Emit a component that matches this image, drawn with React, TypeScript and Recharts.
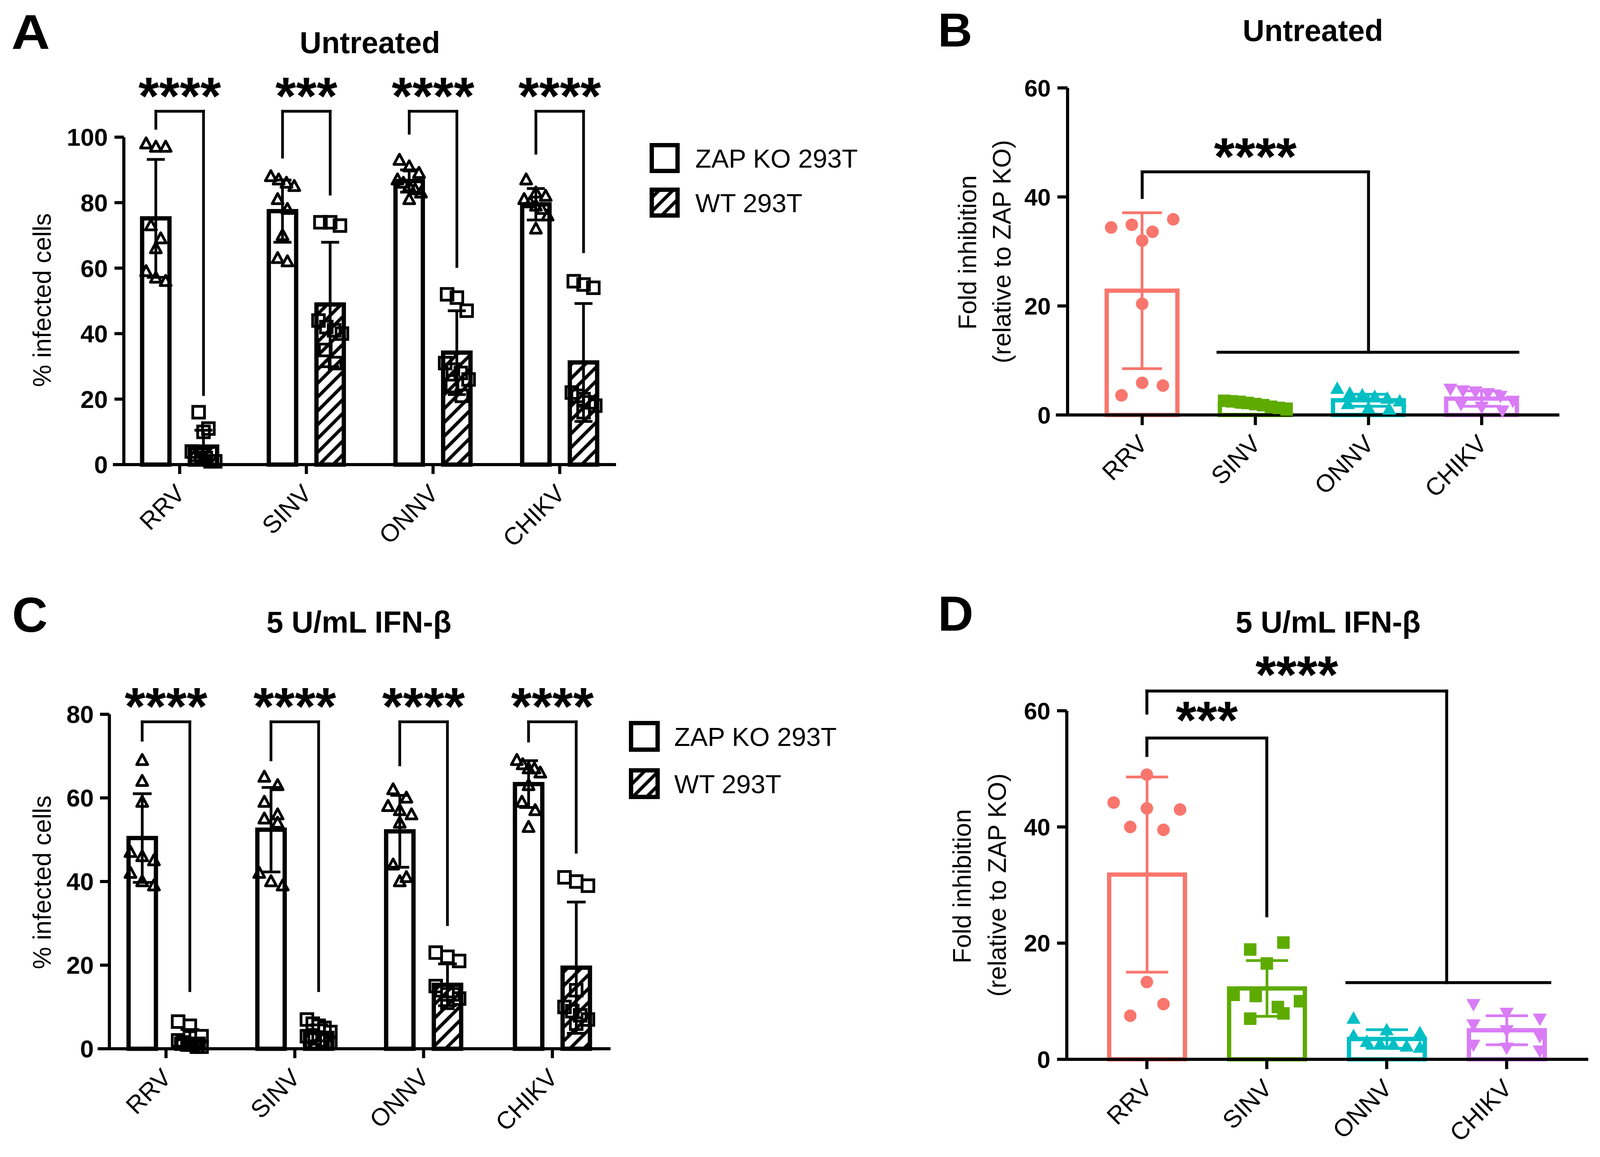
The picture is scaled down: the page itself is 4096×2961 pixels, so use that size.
import React from "react";
import {
  ComposedChart,
  Bar,
  Scatter,
  XAxis,
  YAxis,
  ErrorBar,
  ReferenceLine,
  ReferenceDot,
} from "recharts";

const FONT = '"Liberation Sans", Arial, Helvetica, sans-serif';

// ---------- data ----------
const viruses = ["RRV", "SINV", "ONNV", "CHIKV"];
const virusColors = ["#F8766D", "#5EAB00", "#00BFC4", "#D97CF6"];

// A: untreated, % infected cells
const untreatedKoMean = [75.2, 77.4, 86.6, 79.5];
const untreatedKoSd = [18.0, 9.5, 3.4, 4.8];
const untreatedWtMean = [5.5, 48.9, 34.2, 31.2];
const untreatedWtSd = [5.0, 19.0, 12.8, 18.0];
const untreatedKoPoints = [
  [98, 97, 97, 73, 69, 66, 59, 57, 56],
  [88, 87, 86, 85, 81, 78, 70, 63, 62],
  [93, 91, 89, 87, 86, 85, 84, 83, 81],
  [87, 83, 82, 81, 80, 79, 78, 76, 72],
];
const untreatedWtPoints = [
  [16, 11, 10, 4, 3, 3, 2, 1, 1],
  [74, 74, 73, 44, 42, 41, 40, 35, 31],
  [52, 51, 47, 31, 29, 28, 26, 24, 21],
  [56, 55, 54, 22, 21, 20, 19, 18, 16],
];
const untreatedStars = ["****", "***", "****", "****"];
const untreatedBracketTop = 107.9;
const untreatedBracketLeft = [102.7, 93.9, 101.2, 95.1];
const untreatedBracketRight = [21.4, 82.6, 60.5, 65.0];
const untreatedStarY = 114.7;

// C: 5 U/mL IFN-b, % infected cells
const ifnKoMean = [50.4, 52.4, 52.0, 63.3];
const ifnKoSd = [10.6, 10.1, 8.6, 5.6];
const ifnWtMean = [2.4, 3.8, 15.3, 19.4];
const ifnWtSd = [2.2, 1.9, 5.0, 15.7];
const ifnKoPoints = [
  [69, 64, 59, 47, 46, 45, 42, 40, 39],
  [65, 63, 59, 56, 55, 54, 42, 40, 39],
  [62, 60, 58, 57, 56, 54, 44, 41, 40],
  [69, 68, 67, 67, 66, 63, 59, 57, 53],
];
const ifnWtPoints = [
  [6.5, 5.5, 3, 2, 1.5, 1, 1, 0.5, 0.5],
  [7, 6, 5.5, 5, 4, 3, 2.5, 2, 1.5],
  [23, 22, 21, 15, 14, 13, 13, 12, 11],
  [41, 40, 39, 14, 10, 9, 8, 7, 6],
];
const ifnStars = ["****", "****", "****", "****"];
const ifnBracketTop = 78.2;
const ifnBracketLeft = [73.8, 69.1, 67.9, 73.6];
const ifnBracketRight = [13.9, 13.9, 29.7, 47.0];
const ifnStarY = 83.5;

// B: untreated, fold inhibition
const untreatedFoldMean = [22.8, 1.9, 2.7, 3.0];
const untreatedFoldSd = [14.3, 0.5, 1.1, 1.4];
const untreatedFoldPoints = [
  [34.4, 34.9, 33.6, 35.9, 32.0, 20.4, 3.6, 5.9, 5.4],
  [2.6, 2.5, 2.4, 2.2, 2.0, 1.8, 1.5, 1.3, 1.0],
  [4.8, 3.9, 3.6, 3.3, 3.0, 2.5, 2.0, 1.2, 1.0],
  [4.8, 4.5, 4.3, 4.0, 3.5, 2.6, 2.0, 1.5, 0.8],
];
const untreatedFoldBrackets = [
  { path: [[0, 39.9], [0, 44.6], [2, 44.6], [2, 11.5]], stars: "****", at: [1, 48.7] },
];
const untreatedFoldLines = [[[0.67, 11.5], [3.32, 11.5]]];

// D: 5 U/mL IFN-b, fold inhibition
const ifnFoldMean = [31.8, 12.2, 3.5, 5.0];
const ifnFoldSd = [16.8, 4.8, 1.6, 2.5];
const ifnFoldPoints = [
  [49, 44.2, 43.2, 43.0, 40.0, 39.5, 13.3, 7.5, 9.5],
  [18.9, 20.1, 16.5, 11.1, 10.9, 9.0, 10.0, 7.0, 7.9],
  [7.0, 5.0, 4.5, 4.0, 3.0, 2.6, 2.5, 2.2, 2.0],
  [9.5, 8.0, 7.0, 6.0, 5.0, 4.0, 2.5, 2.0, 1.5],
];
const ifnFoldBrackets = [
  { path: [[0, 59.6], [0, 63.4], [2.5, 63.4], [2.5, 13.2]], stars: "****", at: [1.25, 67.4] },
  { path: [[0, 52.3], [0, 55.3], [1, 55.3], [1, 24.7]], stars: "***", at: [0.5, 59.6] },
];
const ifnFoldLines = [[[1.668, 13.2], [3.36, 13.2]]];

// ---------- layout ----------
type Layout = {
  left: number; top: number; width: number; height: number;
  plotLeft: number; plotTop: number; plotRight: number; plotBottom: number;
  c0: number; step: number; axisStart: number;
  yMax: number; yTicks: number[];
  tickFont: number; tickLen: number; tickGap: number;
};

const layoutA: Layout = { left: 0, top: 150, width: 1660, height: 1300, plotLeft: 317, plotTop: 351, plotRight: 1573, plotBottom: 1189, c0: 460, step: 324.3, axisStart: 293, yMax: 100, yTicks: [0, 20, 40, 60, 80, 100], tickFont: 63, tickLen: 24, tickGap: 17 };
const layoutB: Layout = { left: 2400, top: 150, width: 1696, height: 1150, plotLeft: 2733, plotTop: 225, plotRight: 3988, plotBottom: 1062, c0: 2924, step: 289.7, axisStart: 2707, yMax: 60, yTicks: [0, 20, 40, 60], tickFont: 61, tickLen: 26, tickGap: 17 };
const layoutC: Layout = { left: 0, top: 1650, width: 1620, height: 1300, plotLeft: 280, plotTop: 1828, plotRight: 1559, plotBottom: 2684, c0: 425, step: 329.7, axisStart: 254, yMax: 80, yTicks: [0, 20, 40, 60, 80], tickFont: 63, tickLen: 24, tickGap: 16 };
const layoutD: Layout = { left: 2400, top: 1650, width: 1696, height: 1300, plotLeft: 2731, plotTop: 1819, plotRight: 4062, plotBottom: 2711, c0: 2936, step: 307, axisStart: 2716, yMax: 60, yTicks: [0, 20, 40, 60], tickFont: 61, tickLen: 25, tickGap: 17 };

const Y_AXIS_W = 200;
const X_AXIS_H = 200;
const GROUP_BAR = 70;
const GROUP_GAP = 52;

function frame(l: Layout) {
  return {
    margin: {
      left: l.plotLeft - l.left - Y_AXIS_W,
      top: l.plotTop - l.top,
      right: l.left + l.width - l.plotRight,
      bottom: l.top + l.height - l.plotBottom - X_AXIS_H,
    },
    numDomain: [(l.plotLeft - l.c0) / l.step, (l.plotRight - l.c0) / l.step],
    catPadding: {
      left: l.c0 - l.step / 2 - l.plotLeft,
      right: l.plotRight - (l.c0 + 3.5 * l.step),
    },
    axisFrom: (l.axisStart - l.c0) / l.step,
    pxPerUnit: (l.plotBottom - l.plotTop) / l.yMax,
  };
}

// rows of near-equal values are spread sideways, like a column scatter
function swarm(values: number[], rowGap: number) {
  const order = values.map((_, i) => i).sort((a, b) => values[b] - values[a]);
  const placed = values.map(() => ({ k: 0, n: 1 }));
  let row: number[] = [];
  let head = 0;
  const flush = () => {
    row.sort((a, b) => a - b);
    row.forEach((idx, k) => (placed[idx] = { k: k - (row.length - 1) / 2, n: row.length }));
    row = [];
  };
  for (const i of order) {
    if (row.length && head - values[i] > rowGap) flush();
    if (!row.length) head = values[i];
    row.push(i);
  }
  flush();
  return placed;
}

function pointCloud(groups: number[][], first: number, shift: number, l: Layout, marker: number, spacing: number, maxSpan: number) {
  const rowGap = (1.2 * marker) / frame(l).pxPerUnit;
  return groups.flatMap((vals, g) => {
    const placed = swarm(vals, rowGap);
    return vals.map((v, j) => {
      const { k, n } = placed[j];
      const gap = n > 1 ? Math.min(spacing, maxSpan / (n - 1)) : 0;
      return { x: first + g + shift + (k * gap) / l.step, y: v };
    });
  });
}

// ---------- marks ----------
const KoBar = (p: any) =>
  p.height > 0 ? <rect x={p.x} y={p.y} width={p.width} height={p.height} fill="#fff" stroke="#000" strokeWidth={11} /> : null;
const WtBar = (p: any) =>
  p.height > 0 ? <rect x={p.x} y={p.y} width={p.width} height={p.height} fill="url(#hatch)" stroke="#000" strokeWidth={11} /> : null;
const foldBar = (color: string) => (p: any) =>
  p.height > 0 ? <rect x={p.x} y={p.y} width={p.width} height={p.height} fill="none" stroke={color} strokeWidth={11} /> : null;

const OpenTriangle = (p: any) => (
  <path d={`M${p.cx},${p.cy - 15}L${p.cx + 14},${p.cy + 11}L${p.cx - 14},${p.cy + 11}Z`} fill="none" stroke="#000" strokeWidth={7} strokeLinejoin="round" />
);
const OpenSquare = (p: any) => (
  <rect x={p.cx - 15} y={p.cy - 15} width={30} height={30} fill="none" stroke="#000" strokeWidth={7} />
);
const foldMarker = (kind: number, color: string) => (p: any) => {
  const { cx, cy } = p;
  if (kind === 0) return <circle cx={cx} cy={cy} r={16} fill={color} />;
  if (kind === 1) return <rect x={cx - 16} y={cy - 16} width={32} height={32} fill={color} />;
  if (kind === 2) return <path d={`M${cx},${cy - 19}L${cx + 18},${cy + 13}L${cx - 18},${cy + 13}Z`} fill={color} />;
  return <path d={`M${cx},${cy + 19}L${cx + 18},${cy - 13}L${cx - 18},${cy - 13}Z`} fill={color} />;
};

const STAR_SIZE = 136;
const starLabel = (text: string) => (props: any) => {
  const vb = props.viewBox || {};
  return (
    <text x={vb.x} y={vb.y + 0.47 * STAR_SIZE} textAnchor="middle" fontFamily={FONT} fontWeight={700} fontSize={STAR_SIZE} fill="#000">
      {text}
    </text>
  );
};

const catTick = (l: Layout) => (p: any) => {
  const ax = p.x + 17;
  const ay = p.y - l.tickLen + 78;
  return (
    <text x={ax} y={ay} transform={`rotate(-45 ${ax} ${ay})`} textAnchor="end" fontFamily={FONT} fontSize={63} fill="#000">
      {p.payload.value}
    </text>
  );
};

function axes(l: Layout, f: ReturnType<typeof frame>) {
  return [
    <XAxis
      key="cat"
      xAxisId="cat"
      dataKey="cat"
      type="category"
      padding={f.catPadding}
      height={X_AXIS_H}
      interval={0}
      tickSize={l.tickLen}
      tickMargin={0}
      axisLine={false}
      tickLine={{ stroke: "#000", strokeWidth: 8 }}
      tick={catTick(l)}
    />,
    <XAxis key="num" xAxisId="num" type="number" dataKey="x" domain={f.numDomain} hide />,
    <YAxis
      key="y"
      type="number"
      domain={[0, l.yMax]}
      ticks={l.yTicks}
      interval={0}
      width={Y_AXIS_W}
      tickSize={l.tickLen}
      tickMargin={l.tickGap}
      axisLine={{ stroke: "#000", strokeWidth: 8 }}
      tickLine={{ stroke: "#000", strokeWidth: 8 }}
      tick={{ fill: "#000", fontSize: l.tickFont, fontWeight: 700, fontFamily: FONT }}
    />,
  ];
}

function segmentLines(paths: number[][][], width: number, prefix: string) {
  return paths.flatMap((p, b) =>
    p.slice(1).map((q, k) => (
      <ReferenceLine
        key={`${prefix}${b}-${k}`}
        xAxisId="num"
        segment={[{ x: p[k][0], y: p[k][1] }, { x: q[0], y: q[1] }]}
        stroke="#000"
        strokeWidth={width}
        strokeLinecap="square"
        ifOverflow="visible"
      />
    ))
  );
}

function GroupedPanel(props: {
  l: Layout; koMean: number[]; koSd: number[]; wtMean: number[]; wtSd: number[];
  koPts: number[][]; wtPts: number[][]; stars: string[];
  top: number; leftLeg: number[]; rightLeg: number[]; starY: number; spacing: number; cap: number;
}) {
  const { l } = props;
  const f = frame(l);
  const rows = viruses.map((cat, i) => ({ cat, ko: props.koMean[i], koSd: props.koSd[i], wt: props.wtMean[i], wtSd: props.wtSd[i] }));
  const shift = (GROUP_BAR + GROUP_GAP) / 2 / l.step;
  const koCloud = pointCloud(props.koPts, 0, -shift, l, 35, props.spacing, 60);
  const wtCloud = pointCloud(props.wtPts, 0, shift, l, 35, props.spacing, 60);
  const brackets = viruses.map((_, i) => [
    [i - shift, props.leftLeg[i]],
    [i - shift, props.top],
    [i + shift, props.top],
    [i + shift, props.rightLeg[i]],
  ]);
  return (
    <div style={{ position: "absolute", left: l.left, top: l.top }}>
      <ComposedChart width={l.width} height={l.height} data={rows} margin={f.margin} barGap={GROUP_GAP}>
        {axes(l, f)}
        <Bar xAxisId="cat" dataKey="ko" barSize={GROUP_BAR} shape={KoBar} isAnimationActive={false}>
          <ErrorBar dataKey="koSd" width={props.cap} strokeWidth={7} stroke="#000" />
        </Bar>
        <Bar xAxisId="cat" dataKey="wt" barSize={GROUP_BAR} shape={WtBar} isAnimationActive={false}>
          <ErrorBar dataKey="wtSd" width={props.cap} strokeWidth={7} stroke="#000" />
        </Bar>
        <Scatter xAxisId="num" data={koCloud} dataKey="y" shape={OpenTriangle} isAnimationActive={false} />
        <Scatter xAxisId="num" data={wtCloud} dataKey="y" shape={OpenSquare} isAnimationActive={false} />
        {segmentLines(brackets, 7, "br")}
        {segmentLines([[[f.axisFrom, 0], [f.numDomain[1], 0]]], 8, "ax")}
        {props.stars.map((s, i) => (
          <ReferenceDot key={`st${i}`} xAxisId="num" x={i} y={props.starY} r={0} fill="none" stroke="none" ifOverflow="visible" label={starLabel(s)} />
        ))}
      </ComposedChart>
    </div>
  );
}

function FoldPanel(props: {
  l: Layout; mean: number[]; sd: number[]; pts: number[][];
  brackets: { path: number[][]; stars: string; at: number[] }[]; lines: number[][][];
  barSize: number; spacing: number; maxSpan: number; cap: number;
}) {
  const { l } = props;
  const f = frame(l);
  const rows = viruses.map((cat, i) => ({ cat, [`v${i}`]: props.mean[i], [`e${i}`]: props.sd[i] }));
  return (
    <div style={{ position: "absolute", left: l.left, top: l.top }}>
      <ComposedChart width={l.width} height={l.height} data={rows} margin={f.margin}>
        {axes(l, f)}
        {viruses.map((v, i) => (
          <Bar key={v} xAxisId="cat" dataKey={`v${i}`} stackId="fold" barSize={props.barSize} fill={virusColors[i]} shape={foldBar(virusColors[i])} isAnimationActive={false}>
            <ErrorBar dataKey={`e${i}`} width={props.cap} strokeWidth={7} stroke={virusColors[i]} />
          </Bar>
        ))}
        {viruses.map((v, i) => (
          <Scatter
            key={`p${v}`}
            xAxisId="num"
            data={pointCloud([props.pts[i]], i, 0, l, 32, props.spacing, props.maxSpan)}
            dataKey="y"
            shape={foldMarker(i, virusColors[i])}
            isAnimationActive={false}
          />
        ))}
        {segmentLines(props.brackets.map((b) => b.path), 7.5, "br")}
        {segmentLines(props.lines, 7.5, "ln")}
        {segmentLines([[[f.axisFrom, 0], [f.numDomain[1], 0]]], 8, "ax")}
        {props.brackets.map((b, i) => (
          <ReferenceDot key={`st${i}`} xAxisId="num" x={b.at[0]} y={b.at[1]} r={0} fill="none" stroke="none" ifOverflow="visible" label={starLabel(b.stars)} />
        ))}
      </ComposedChart>
    </div>
  );
}

// ---------- free text: panel letters, titles, axis titles, legends ----------
const txt = { fontFamily: FONT, fill: "#000" };

function Legend2(props: { x: number; y: number; box: number; rowGap: number; textX: number }) {
  const { x, y, box, rowGap, textX } = props;
  const items = [
    { label: "ZAP KO 293T", fill: "#fff" },
    { label: "WT 293T", fill: "url(#hatch)" },
  ];
  return (
    <g>
      {items.map((it, i) => (
        <g key={it.label}>
          <rect x={x + 5.5} y={y + 5.5 + i * rowGap} width={box - 11} height={box - 11} fill={it.fill} stroke="#000" strokeWidth={11} />
          <text x={textX} y={y + box / 2 + i * rowGap + 24} fontSize={67} {...txt}>
            {it.label}
          </text>
        </g>
      ))}
    </g>
  );
}

function VLabel(props: { x: number; y: number; children: string }) {
  return (
    <text transform={`translate(${props.x} ${props.y}) rotate(-90)`} textAnchor="middle" dominantBaseline="central" fontSize={64} {...txt}>
      {props.children}
    </text>
  );
}

function Overlay() {
  return (
    <svg width={4096} height={2961} style={{ position: "absolute", left: 0, top: 0, pointerEvents: "none" }}>
      <defs>
        <pattern id="hatch" patternUnits="userSpaceOnUse" width={25} height={25} patternTransform="rotate(45)">
          <rect width={25} height={25} fill="#fff" />
          <line x1={12.5} y1={0} x2={12.5} y2={25} stroke="#000" strokeWidth={8.5} />
        </pattern>
      </defs>
      <text x={29} y={125} fontSize={124} fontWeight={700} textLength={99} lengthAdjust="spacingAndGlyphs" {...txt}>A</text>
      <text x={2401} y={119} fontSize={122} fontWeight={700} {...txt}>B</text>
      <text x={31} y={1617} fontSize={126} fontWeight={700} {...txt}>C</text>
      <text x={2401} y={1614} fontSize={126} fontWeight={700} {...txt}>D</text>

      <text x={947} y={136} textAnchor="middle" fontSize={77} fontWeight={700} {...txt}>Untreated</text>
      <text x={3361} y={105} textAnchor="middle" fontSize={77} fontWeight={700} {...txt}>Untreated</text>
      <text x={919} y={1619} textAnchor="middle" fontSize={77} fontWeight={700} {...txt}>5 U/mL IFN-β</text>
      <text x={3400} y={1619} textAnchor="middle" fontSize={77} fontWeight={700} {...txt}>5 U/mL IFN-β</text>

      <VLabel x={108} y={768}>% infected cells</VLabel>
      <VLabel x={108} y={2258}>% infected cells</VLabel>
      <VLabel x={2477} y={646}>Fold inhibition</VLabel>
      <VLabel x={2565} y={644}>(relative to ZAP KO)</VLabel>
      <VLabel x={2463} y={2268}>Fold inhibition</VLabel>
      <VLabel x={2553} y={2265}>(relative to ZAP KO)</VLabel>

      <Legend2 x={1663} y={366} box={77} rowGap={114} textX={1780} />
      <Legend2 x={1610} y={1845} box={79} rowGap={121} textX={1726} />
    </svg>
  );
}

export default function App() {
  return (
    <div style={{ position: "absolute", left: 0, top: 0, width: 4096, height: 2961, background: "#fff", overflow: "hidden" }}>
      <GroupedPanel
        l={layoutA}
        koMean={untreatedKoMean}
        koSd={untreatedKoSd}
        wtMean={untreatedWtMean}
        wtSd={untreatedWtSd}
        koPts={untreatedKoPoints}
        wtPts={untreatedWtPoints}
        stars={untreatedStars}
        top={untreatedBracketTop}
        leftLeg={untreatedBracketLeft}
        rightLeg={untreatedBracketRight}
        starY={untreatedStarY}
        spacing={25}
        cap={23}
      />
      <GroupedPanel
        l={layoutC}
        koMean={ifnKoMean}
        koSd={ifnKoSd}
        wtMean={ifnWtMean}
        wtSd={ifnWtSd}
        koPts={ifnKoPoints}
        wtPts={ifnWtPoints}
        stars={ifnStars}
        top={ifnBracketTop}
        leftLeg={ifnBracketLeft}
        rightLeg={ifnBracketRight}
        starY={ifnStarY}
        spacing={34}
        cap={24}
      />
      <FoldPanel
        l={layoutB}
        mean={untreatedFoldMean}
        sd={untreatedFoldSd}
        pts={untreatedFoldPoints}
        brackets={untreatedFoldBrackets}
        lines={untreatedFoldLines}
        barSize={181}
        spacing={53}
        maxSpan={160}
        cap={51}
      />
      <FoldPanel
        l={layoutD}
        mean={ifnFoldMean}
        sd={ifnFoldSd}
        pts={ifnFoldPoints}
        brackets={ifnFoldBrackets}
        lines={ifnFoldLines}
        barSize={194}
        spacing={85}
        maxSpan={170}
        cap={54}
      />
      <Overlay />
    </div>
  );
}
